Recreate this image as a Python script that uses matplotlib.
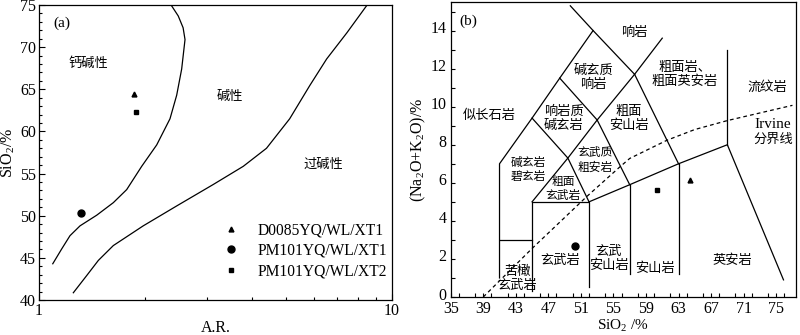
import matplotlib
matplotlib.use("Agg")
import matplotlib.pyplot as plt
from matplotlib.ticker import MultipleLocator, FixedLocator, NullFormatter
from matplotlib.lines import Line2D
from matplotlib.transforms import ScaledTranslation

plt.rcParams['font.family'] = ['Liberation Serif', 'DejaVu Serif']
plt.rcParams['mathtext.default'] = 'regular'
CJK = ['Noto Sans CJK SC', 'DejaVu Sans']

# ---------------- data: panel (a) ----------------
ar_curve1 = [1.094, 1.160, 1.224, 1.307, 1.457, 1.624, 1.772, 1.954, 2.155, 2.35, 2.455, 2.536, 2.592, 2.56, 2.48, 2.35]
si_curve1 = [44.3, 46.07, 47.63, 48.8, 50.06, 51.55, 53.1, 55.86, 58.4, 61.5, 64.3, 67.4, 70.9, 72.3, 73.7, 75.2]
ar_curve2 = [1.251, 1.365, 1.473, 1.624, 1.974, 2.455, 3.115, 3.79, 4.41, 5.13, 5.85, 6.53, 7.45, 8.57]
si_curve2 = [40.86, 42.9, 44.7, 46.46, 48.8, 51.16, 53.7, 55.86, 58.0, 61.5, 65.45, 68.6, 71.7, 75.2]

samples = ['D0085YQ/WL/XT1', 'PM101YQ/WL/XT1', 'PM101YQ/WL/XT2']
markers = ['^', 'o', 's']
msizes = [3.5, 5, 3.2]
ar_vals = [1.858, 1.315, 1.88]
si_vals = [64.47, 50.37, 62.3]

# ---------------- data: panel (b) TAS ----------------
tas_si = [64.35, 50.3, 60.4]
tas_alk = [6.14, 2.69, 5.62]

tas_lines = [
    ([49.7, 52.5, 57.6, 63.0], [15.3, 14.0, 11.7, 7.0]),
    ([57.6, 61.0], [11.7, 13.6]),
    ([52.5, 48.4, 45.0, 41.0, 41.0], [14.0, 11.5, 9.4, 7.0, 1.0]),
    ([48.4, 53.0, 57.6], [11.5, 9.3, 11.7]),
    ([45.0, 49.4, 53.0], [9.4, 7.3, 9.3]),
    ([53.0, 57.0], [9.3, 5.9]),
    ([45.0, 49.4, 52.0], [5.0, 7.3, 5.0]),
    ([45.0, 45.0, 52.0, 52.0], [0.3, 5.0, 5.0, 0.5]),
    ([52.0, 57.0, 63.0, 69.0, 75.9], [5.0, 5.9, 7.0, 8.0, 0.9]),
    ([57.0, 57.0], [5.9, 1.2]),
    ([63.0, 63.0], [7.0, 1.2]),
    ([69.0, 69.0], [8.0, 13.0]),
    ([41.0, 45.0], [3.0, 3.0]),
]

irvine_si = [39.0, 45.0, 51.7, 55.8, 57.0, 61.6, 65.0, 69.0, 77.0]
irvine_alk = [0.0, 2.55, 5.27, 6.84, 7.28, 8.24, 8.8, 9.27, 10.07]

sio2_ticks = [35, 39, 43, 47, 51, 55, 59, 63, 67, 71, 75]

field_names = [
    ('响岩', 57.6, 13.9), ('碱玄质\n响岩', 52.5, 11.55), ('粗面岩、\n粗面英安岩', 63.8, 11.7),
    ('流纹岩', 73.9, 11.0), ('似长石岩', 39.8, 9.55), ('响岩质\n碱玄岩', 48.9, 9.4),
    ('粗面\n安山岩', 56.9, 9.4), ('碱玄岩\n碧玄岩', 44.5, 6.7), ('玄武质\n粗安岩', 52.75, 7.2),
    ('粗面\n玄武岩', 48.8, 5.7), ('玄武岩', 48.4, 1.9), ('玄武\n安山岩', 54.4, 2.0),
    ('安山岩', 60.1, 1.52), ('英安岩', 69.6, 1.92), ('苦橄\n玄武岩', 43.2, 0.95),
]

fig = plt.figure(figsize=(8, 3.35), dpi=100)
ax1 = fig.add_axes([39/800, 35/335, 353/800, 295/335])
ax2 = fig.add_axes([450.7/800, 38/335, 345/800, 295/335])

lw = 0.9
tfs = 11.5
tick_kw = dict(direction='in', labelsize=tfs, width=0.8)

# ---- panel (a)
ax1.plot(ar_curve1, si_curve1, color='black', lw=lw)
ax1.plot(ar_curve2, si_curve2, color='black', lw=lw)
for name, m, ms, x, y in zip(samples, markers, msizes, ar_vals, si_vals):
    ax1.plot([x], [y], linestyle='none', marker=m, markersize=ms, color='black')
ax1.set_xscale('log')
ax1.set_xlim(1, 10)
ax1.set_ylim(40, 75)
ax1.xaxis.set_major_locator(FixedLocator([1, 10]))
ax1.set_xticklabels(['1', '10'])
ax1.xaxis.set_minor_locator(FixedLocator([2, 3, 4, 5, 6, 7, 8, 9]))
ax1.xaxis.set_minor_formatter(NullFormatter())
ax1.yaxis.set_major_locator(MultipleLocator(5))
ax1.yaxis.set_minor_locator(MultipleLocator(1))
ax1.tick_params(which='major', length=4, pad=2, **tick_kw)
ax1.tick_params(which='minor', length=2.5, direction='in', width=0.8)
ax1.set_xlabel('A.R.', fontsize=11.5, labelpad=1)
ax1.set_ylabel('SiO$_2$/%', fontsize=11.5, labelpad=2)
ax1.text(1.16, 72.8, '(a)', fontsize=11, ha='center', va='center')
ax1.text(1.38, 68.1, '钙碱性', family=CJK, fontsize=9.5, ha='center', va='center')
ax1.text(3.48, 64.2, '碱性', family=CJK, fontsize=9.5, ha='center', va='center')
ax1.text(6.39, 56.1, '过碱性', family=CJK, fontsize=9.5, ha='center', va='center')

handles = [Line2D([], [], linestyle='none', marker=m, markersize=ms, color='black')
           for m, ms in zip(markers, msizes)]
ax1.legend(handles, samples, loc='upper left', bbox_to_anchor=(0.5, 0.285),
           frameon=False, fontsize=11.2, handletextpad=1.1, labelspacing=0.3,
           borderaxespad=0, handlelength=1.2)

# ---- panel (b)
for xs, ys in tas_lines:
    ax2.plot(xs, ys, color='black', lw=lw)
ax2.plot(irvine_si, irvine_alk, color='black', lw=lw, linestyle=(0, (3, 2.5)))
for m, ms, x, y in zip(markers, msizes, tas_si, tas_alk):
    ax2.plot([x], [y], linestyle='none', marker=m, markersize=ms, color='black')
for label, x, y in field_names:
    fs = 8.5 if label in ('粗面\n玄武岩', '玄武质\n粗安岩', '碱玄岩\n碧玄岩') else 9.5
    ax2.text(x, y, label, family=CJK, fontsize=fs, ha='center', va='center',
             linespacing=1.1)
ax2.text(74.6, 9.06, 'Irvine', fontsize=11, ha='center', va='center')
ax2.text(74.6, 8.3, '分界线', family=CJK, fontsize=9.5, ha='center', va='center')
ax2.text(37.2, 14.5, '(b)', fontsize=11, ha='center', va='center')
ax2.set_xlim(35, 77.4)
ax2.set_ylim(0, 15.5)
ax2.xaxis.set_major_locator(FixedLocator(sio2_ticks))
ax2.xaxis.set_minor_locator(MultipleLocator(2))
ax2.yaxis.set_major_locator(MultipleLocator(2))
ax2.yaxis.set_minor_locator(MultipleLocator(1))
ax2.tick_params(which='major', length=3, **tick_kw)
ax2.tick_params(axis='x', which='major', pad=3)
ax2.tick_params(axis='y', which='major', pad=3)
ax2.tick_params(which='minor', length=3, direction='in', width=0.8)
ax2.set_xlabel('SiO$_2$ /%', fontsize=11, labelpad=0.5)
ax2.set_ylabel('(Na$_2$O+K$_2$O)/%', fontsize=11.5, labelpad=2)

# nudge the y tick labels of panel (b) up slightly so "0" clears "35"
lift = ScaledTranslation(0, 2.5 / 72, fig.dpi_scale_trans)
for lab in ax2.yaxis.get_majorticklabels():
    lab.set_transform(lab.get_transform() + lift)

for ax in (ax1, ax2):
    for s in ax.spines.values():
        s.set_linewidth(0.9)

fig.savefig('out.png', dpi=100)
